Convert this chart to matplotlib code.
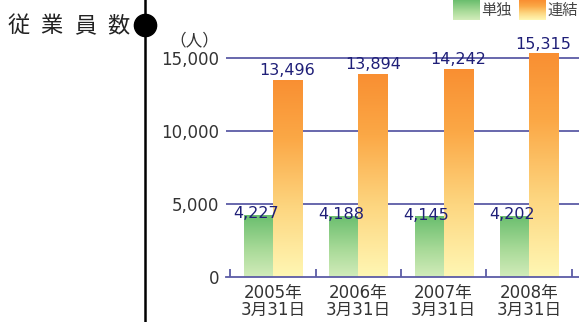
import matplotlib
matplotlib.use("Agg")
import matplotlib.pyplot as plt
import numpy as np
from matplotlib.colors import LinearSegmentedColormap
from matplotlib.lines import Line2D

plt.rcParams['font.family'] = ['DejaVu Sans', 'Noto Sans CJK JP']

categories = ["2005年\n3月31日", "2006年\n3月31日", "2007年\n3月31日", "2008年\n3月31日"]
standalone = [4227, 4188, 4145, 4202]
consolidated = [13496, 13894, 14242, 15315]
yticks = [0, 5000, 10000, 15000]
series_names = ["単独", "連結"]
title_chars = ["従", "業", "員", "数"]
unit = "（人）"

W, H = 579, 322
fig = plt.figure(figsize=(W / 100, H / 100), dpi=100)

def fx(px):
    return px / W

def fy(py):
    return 1 - py / H

green_cmap = LinearSegmentedColormap.from_list(
    "g", [(0, (210/255, 236/255, 186/255)), (0.45, (168/255, 218/255, 152/255)), (1, (106/255, 190/255, 110/255))])
orange_cmap = LinearSegmentedColormap.from_list(
    "o", [(0, (255/255, 247/255, 180/255)), (0.35, (253/255, 214/255, 128/255)), (0.7, (251/255, 168/255, 70/255)), (1, (249/255, 143/255, 50/255))])

y0_px, y15_px = 277, 58
ppu = (y0_px - y15_px) / 15000
ymax = 17000
top_px = y0_px - ymax * ppu
ax = fig.add_axes([fx(226), fy(y0_px), fx(579) - fx(226), (y0_px - top_px) / H])

n = len(categories)
x = np.arange(n)
bw = 0.34
grid_col = "#5c5ca6"
label_col = "#1f1f78"

ax.set_xlim(-0.551, 3.587)
ax.set_ylim(0, ymax)

for v in yticks[1:]:
    ax.axhline(v, color=grid_col, lw=1.3, zorder=0)

def grad_bar(xc, val, cmap):
    b = ax.bar(xc, val, bw, color="none", edgecolor="none", zorder=2)[0]
    grad = np.linspace(0, 1, 256).reshape(-1, 1)
    im = ax.imshow(grad, cmap=cmap, origin="lower", aspect="auto",
                   extent=[xc - bw / 2, xc + bw / 2, 0, val], zorder=2)
    im.set_clip_path(b)

for i in range(n):
    grad_bar(x[i] - bw / 2, standalone[i], green_cmap)
    grad_bar(x[i] + bw / 2, consolidated[i], orange_cmap)
    ax.text(x[i] - bw / 2 - 0.03, standalone[i] + 100, f"{standalone[i]:,}", ha="center", va="center",
            fontsize=11.5, color=label_col, zorder=5)
    ax.text(x[i] + bw / 2, consolidated[i] + 120, f"{consolidated[i]:,}", ha="center", va="bottom",
            fontsize=11.5, color=label_col, zorder=5)

ax.set_xlim(-0.551, 3.587)
ax.set_ylim(0, ymax)

for s in ["top", "right", "left"]:
    ax.spines[s].set_visible(False)
ax.spines["bottom"].set_color(grid_col)
ax.spines["bottom"].set_linewidth(1.3)

ax.set_yticks(yticks)
ax.set_yticklabels([f"{v:,}" for v in yticks], fontsize=12, color="#333333")
ax.tick_params(axis="y", length=0, pad=5)

ax.set_xticks(np.arange(-0.5, n, 1.0))
ax.set_xticklabels([])
ax.tick_params(axis="x", direction="in", length=6, color=grid_col, width=1.3)
for i in range(n):
    ax.text(x[i], -450, categories[i], ha="center", va="top", fontsize=12,
            color="#333333", linespacing=0.95)

fig.text(fx(194), fy(40), unit, ha="center", va="center", fontsize=12, color="#333333")

# decorative left line + circle + title
fig.add_artist(Line2D([fx(145), fx(145)], [0, 1], color="black", lw=1.8))
fig.add_artist(Line2D([fx(145)], [fy(25)], marker="o", markersize=16, color="black", lw=0))
for cx, ch in zip([19, 51, 85, 118], title_chars):
    fig.text(fx(cx), fy(26), ch, ha="center", va="center", fontsize=16, color="#222222")

# legend
for (x0, x1, cmap, name) in [(453, 480, green_cmap, series_names[0]),
                              (519, 546, orange_cmap, series_names[1])]:
    lax = fig.add_axes([fx(x0), fy(20), fx(x1) - fx(x0), 20 / H])
    lax.imshow(np.linspace(0, 1, 64).reshape(-1, 1), cmap=cmap, origin="lower", aspect="auto")
    lax.axis("off")
    fig.text(fx(x1 + 1.5), fy(10), name, ha="left", va="center", fontsize=11, color="#444444")

fig.savefig("out.png", dpi=100)
